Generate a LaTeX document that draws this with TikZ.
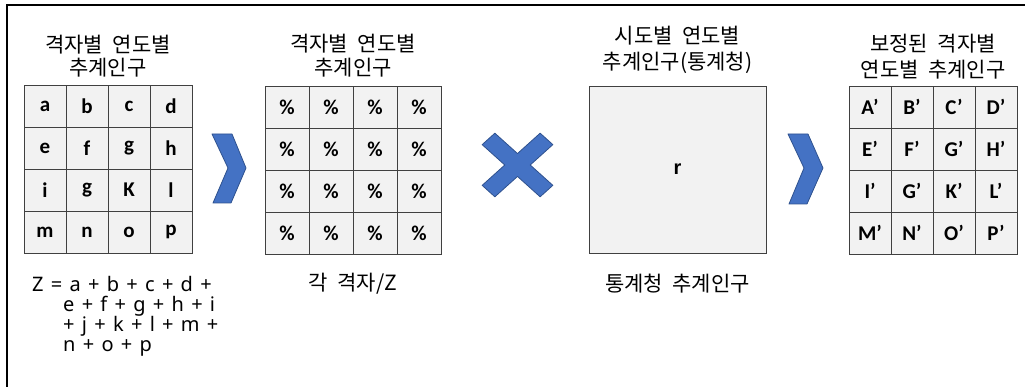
\documentclass[tikz,border=0pt]{standalone}
\usepackage{fontspec}
\newfontfamily\krfont[WordSpace=2.0]{Noto Sans CJK KR}
\newfontfamily\sumfont[WordSpace=1.4]{Noto Sans}
\newfontfamily\calfont{Carlito}
\newfontfamily\arialfont{Liberation Sans}
\definecolor{cellfill}{HTML}{F2F2F2}
\definecolor{celldraw}{HTML}{404040}
\definecolor{blueA}{HTML}{4472C4}
\definecolor{blueB}{HTML}{2F528F}
\begin{document}
\begin{tikzpicture}[x=1pt,y=-1pt,
  cell/.style={draw=celldraw, fill=cellfill, line width=0.9pt, minimum width=42pt, minimum height=42pt, inner sep=0pt, font=\calfont\bfseries\fontsize{21}{21}\selectfont},
  widecell/.style={cell, minimum width=44pt},
  title/.style={align=center, inner sep=0pt},
  shapeblue/.style={fill=blueA, draw=blueB, line width=0.8pt, line join=round}]
\useasboundingbox (0,0) rectangle (1029,387);
\draw[line width=1.2pt] (7,387) -- (7,5) -- (1025,5);

% titles
\node[title, font=\krfont\fontsize{21}{23}\selectfont] (t1) at (108,56.5) {격자별 연도별\\추계인구};
\node[title, font=\krfont\fontsize{21}{24}\selectfont] (t2) at (353,56) {격자별 연도별\\추계인구};
\node[title, font=\krfont\fontsize{21}{26}\selectfont] (t3) at (677.5,49.5) {시도별 연도별\\추계인구(통계청)};
\node[title, font=\krfont\fontsize{21}{26}\selectfont] (t4) at (933,56.5) {보정된 격자별\\연도별 추계인구};

% grid 1
\foreach \t [count=\i from 0] in {a,b,c,d,e,f,g,h,i,g,K,l,m,n,o,p} {
  \pgfmathtruncatemacro{\rr}{\i/4}
  \pgfmathtruncatemacro{\cc}{\i-4*\rr}
  \node[cell] (ga-\rr-\cc) at ({45+42*\cc},{106+42*\rr}) {\t};
}
% grid 2
\foreach \i in {0,...,15} {
  \pgfmathtruncatemacro{\rr}{\i/4}
  \pgfmathtruncatemacro{\cc}{\i-4*\rr}
  \node[widecell] (gb-\rr-\cc) at ({287+44*\cc},{107+42*\rr}) {\%};
}
% grid 3
\foreach \t [count=\i from 0] in {A’,B’,C’,D’,E’,F’,G’,H’,I’,G’,K’,L’,M’,N’,O’,P’} {
  \pgfmathtruncatemacro{\rr}{\i/4}
  \pgfmathtruncatemacro{\cc}{\i-4*\rr}
  \node[cell] (gc-\rr-\cc) at ({870+42*\cc},{107+42*\rr}) {\t};
}
% r box
\node[draw=celldraw, fill=cellfill, line width=0.9pt, minimum width=177pt, minimum height=167pt, inner sep=0pt, font=\arialfont\bfseries\fontsize{20}{20}\selectfont] (rbox) at (677.5,169.5) {r};

% bottom labels
\node[anchor=north west, align=left, inner sep=0pt, font=\sumfont\fontsize{20}{20}\selectfont] (zsum) at (32,276) {Z = a + b + c + d +\\\hspace*{31pt}e + f + g + h + i\\\hspace*{31pt}+ j + k + l + m +\\\hspace*{31pt}n + o + p};
\node[inner sep=0pt, font=\krfont\fontsize{21}{21}\selectfont] (lb2) at (353,284) {각 격자/Z};
\node[inner sep=0pt, font=\krfont\fontsize{21}{21}\selectfont] (lb3) at (677.5,284) {통계청 추계인구};

% chevrons
\path[shapeblue] (212,134) -- (232,134) -- (246,168) -- (231,203) -- (213,203) -- (228,168) -- cycle;
\path[shapeblue] (788,134) -- (808,134) -- (823,168) -- (807,204) -- (789,204) -- (804,168) -- cycle;
% multiply sign
\begin{scope}[shift={(517.5,165)}, yscale=0.9, rotate=45]
\path[shapeblue] (9,9) -- (41,9) -- (41,-9) -- (9,-9) -- (9,-41) -- (-9,-41) -- (-9,-9) -- (-41,-9) -- (-41,9) -- (-9,9) -- (-9,41) -- (9,41) -- cycle;
\end{scope}
\end{tikzpicture}
\end{document}
